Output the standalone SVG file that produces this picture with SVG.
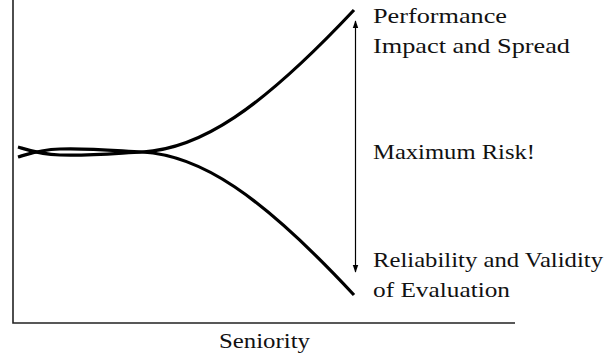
<svg xmlns="http://www.w3.org/2000/svg" width="607" height="358" viewBox="0 0 607 358">
<style>
.axis{stroke:#222;stroke-width:1.6;fill:none}
.curve{stroke:#000;stroke-width:3.2;fill:none;stroke-linecap:butt}
.arr{stroke:#000;stroke-width:1.2;fill:none}
text{font-family:'Liberation Serif','Times New Roman',serif;font-size:22px;fill:#111}
</style>
<defs>
<marker id="ah" viewBox="0 0 10 10" refX="9" refY="5" markerWidth="8" markerHeight="8" markerUnits="userSpaceOnUse" orient="auto-start-reverse">
<path d="M0,1.5 L10,5 L0,8.5 Z" fill="#000"/>
</marker>
</defs>
<g id="axes">
<path class="axis" d="M13,0 V323 H515"/>
</g>
<g id="curves">
<path id="curve-down" class="curve" d="M18,157 C28,154 40,149.5 60,149 C90,148 120,151 142,152 C200,155 260,194 354,295"/>
<path id="curve-up" class="curve" d="M18,147 C28,150 40,154.5 60,155 C90,156 120,153 142,152 C200,149 260,110 354,10"/>
</g>
<g id="connectors">
<line class="arr" x1="355.5" y1="272" x2="355.5" y2="21" marker-start="url(#ah)" marker-end="url(#ah)"/>
</g>
<g id="label-performance">
<text x="373" y="23" textLength="134" lengthAdjust="spacingAndGlyphs">Performance</text>
<text x="373" y="53" textLength="197" lengthAdjust="spacingAndGlyphs">Impact and Spread</text>
</g>
<g id="label-risk">
<text x="373" y="159" textLength="162" lengthAdjust="spacingAndGlyphs">Maximum Risk!</text>
</g>
<g id="label-reliability">
<text x="373" y="267" textLength="230" lengthAdjust="spacingAndGlyphs">Reliability and Validity</text>
<text x="373" y="297" textLength="137" lengthAdjust="spacingAndGlyphs">of Evaluation</text>
</g>
<g id="label-seniority">
<text x="219" y="348" textLength="91" lengthAdjust="spacingAndGlyphs">Seniority</text>
</g>
</svg>
